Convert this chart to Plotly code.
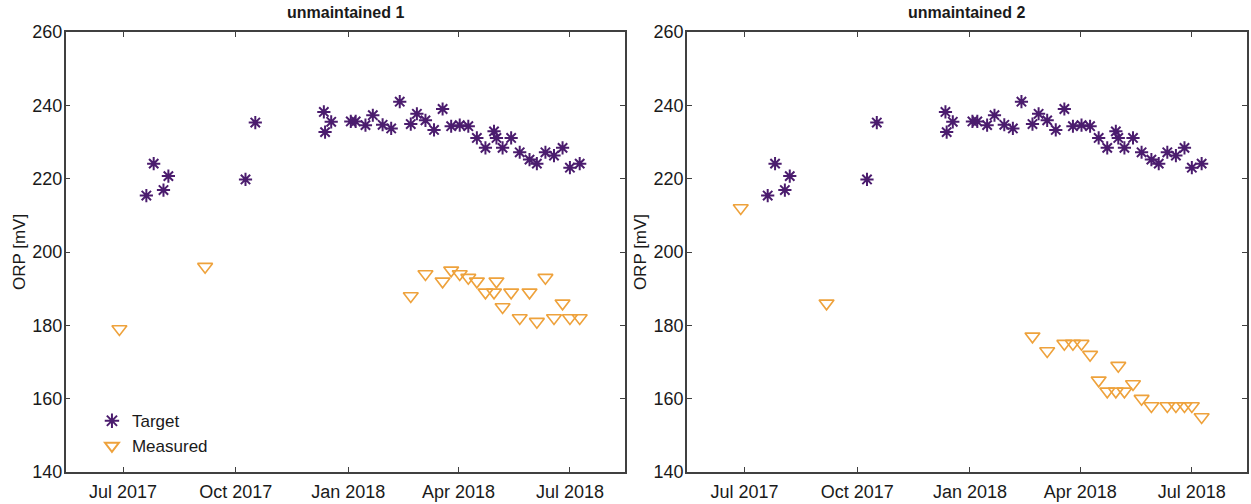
import plotly.graph_objects as go

# Sampling dates shared by the target series (both sites)
target_dates = [
    "2017-07-20", "2017-07-26", "2017-08-03", "2017-08-07", "2017-10-09", "2017-10-17",
    "2017-12-12", "2017-12-13", "2017-12-18", "2018-01-03", "2018-01-07", "2018-01-15",
    "2018-01-21", "2018-01-29", "2018-02-05", "2018-02-12", "2018-02-21", "2018-02-26",
    "2018-03-05", "2018-03-12", "2018-03-19", "2018-03-26", "2018-04-02", "2018-04-09",
    "2018-04-16", "2018-04-23", "2018-04-30", "2018-05-02", "2018-05-07", "2018-05-14",
    "2018-05-21", "2018-05-29", "2018-06-04", "2018-06-11", "2018-06-18", "2018-06-25",
    "2018-07-01", "2018-07-09",
]
target_orp = [
    215.4, 224.1, 216.9, 220.7, 219.8, 235.3,
    238.2, 232.7, 235.5, 235.6, 235.6, 234.6,
    237.3, 234.7, 233.7, 241.0, 234.9, 237.7,
    235.9, 233.3, 239.0, 234.3, 234.6, 234.3,
    231.1, 228.4, 232.9, 231.1, 228.4, 231.1,
    227.2, 225.2, 224.1, 227.2, 226.3, 228.4,
    223.0, 224.1,
]

# Measured ORP, unmaintained site 1
measured1_dates = [
    "2017-06-28", "2017-09-06", "2018-02-21", "2018-03-05", "2018-03-19", "2018-03-26",
    "2018-04-02", "2018-04-09", "2018-04-16", "2018-04-23", "2018-04-30", "2018-05-02",
    "2018-05-07", "2018-05-14", "2018-05-21", "2018-05-29", "2018-06-04", "2018-06-11",
    "2018-06-18", "2018-06-25", "2018-07-01", "2018-07-09",
]
measured1_orp = [
    179, 196, 188, 194, 192, 195,
    194, 193, 192, 189, 189, 192,
    185, 189, 182, 189, 181, 193,
    182, 186, 182, 182,
]

# Measured ORP, unmaintained site 2
measured2_dates = [
    "2017-06-28", "2017-09-06", "2018-02-21", "2018-03-05", "2018-03-19", "2018-03-26",
    "2018-04-02", "2018-04-09", "2018-04-16", "2018-04-23", "2018-04-30", "2018-05-02",
    "2018-05-07", "2018-05-14", "2018-05-21", "2018-05-29", "2018-06-11", "2018-06-18",
    "2018-06-25", "2018-07-01", "2018-07-09",
]
measured2_orp = [
    212, 186, 177, 173, 175, 175,
    175, 172, 165, 162, 162, 169,
    162, 164, 160, 158, 158, 158,
    158, 158, 155,
]

panel_titles = ["unmaintained 1", "unmaintained 2"]
tick_dates = ["2017-07-01", "2017-10-01", "2018-01-01", "2018-04-01", "2018-07-01"]
tick_text = ["Jul 2017", "Oct 2017", "Jan 2018", "Apr 2018", "Jul 2018"]
y_ticks = [140, 160, 180, 200, 220, 240, 260]

PURPLE = "#4b1c6e"
ORANGE = "#eea23c"
FONT = "Liberation Sans, Arial, sans-serif"
TEXT = "#1a1a1a"

fig = go.Figure()

panels = [(measured1_dates, measured1_orp, "x", "y"),
          (measured2_dates, measured2_orp, "x2", "y2")]
for i, (mdates, morp, xa, ya) in enumerate(panels):
    fig.add_trace(go.Scatter(
        x=target_dates, y=target_orp, mode="markers", name="Target",
        xaxis=xa, yaxis=ya, showlegend=(i == 0),
        marker=dict(symbol="asterisk-open", size=11, color=PURPLE,
                    line=dict(color=PURPLE, width=2)),
    ))
    fig.add_trace(go.Scatter(
        x=mdates, y=morp, mode="markers", name="Measured",
        xaxis=xa, yaxis=ya, showlegend=(i == 0),
        marker=dict(symbol="triangle-down-open", size=13, color=ORANGE,
                    line=dict(color=ORANGE, width=1.6)),
    ))

x_common = dict(
    type="date", range=["2017-05-15", "2018-08-15"],
    tickvals=tick_dates, ticktext=tick_text,
    ticks="inside", ticklen=5, tickcolor="#404040",
    showline=True, linecolor="#404040", linewidth=1.5, mirror="ticks",
    showgrid=False, zeroline=False,
    tickfont=dict(family=FONT, size=18, color=TEXT),
    ticklabelstandoff=3,
    automargin=False,
)
y_common = dict(
    range=[140, 260], tickvals=y_ticks,
    ticks="inside", ticklen=5, tickcolor="#404040",
    showline=True, linecolor="#404040", linewidth=1.5, mirror="ticks",
    showgrid=False, zeroline=False,
    tickfont=dict(family=FONT, size=18, color=TEXT),
    ticklabelstandoff=-2,
    title=dict(text="ORP [mV]", font=dict(family=FONT, size=17, color=TEXT),
               standoff=2),
    automargin=False,
    domain=[0.0635, 0.9365],
)

fig.update_layout(
    width=1251, height=504,
    margin=dict(l=0, r=0, t=0, b=0),
    paper_bgcolor="white", plot_bgcolor="white",
    font=dict(family=FONT, size=17, color=TEXT),
    xaxis=dict(domain=[0.0524, 0.4996], anchor="y", **x_common),
    xaxis2=dict(domain=[0.549, 0.9968], anchor="y2", **x_common),
    yaxis=dict(anchor="x", **y_common),
    yaxis2=dict(anchor="x2", **y_common),
    legend=dict(x=0.0735, y=0.20, xanchor="left", yanchor="top",
                bgcolor="rgba(0,0,0,0)", borderwidth=0,
                font=dict(family=FONT, size=17, color=TEXT),
                tracegroupgap=0, itemsizing="constant"),
)

for title, (x0, x1) in zip(panel_titles, [(0.0524, 0.4996), (0.549, 0.9968)]):
    fig.add_annotation(
        text=f"<b>{title}</b>", x=(x0 + x1) / 2, y=1.0, xref="paper", yref="paper",
        xanchor="center", yanchor="top", yshift=-2, showarrow=False,
        font=dict(family=FONT, size=16, color=TEXT),
    )

fig.write_html("out.html")
